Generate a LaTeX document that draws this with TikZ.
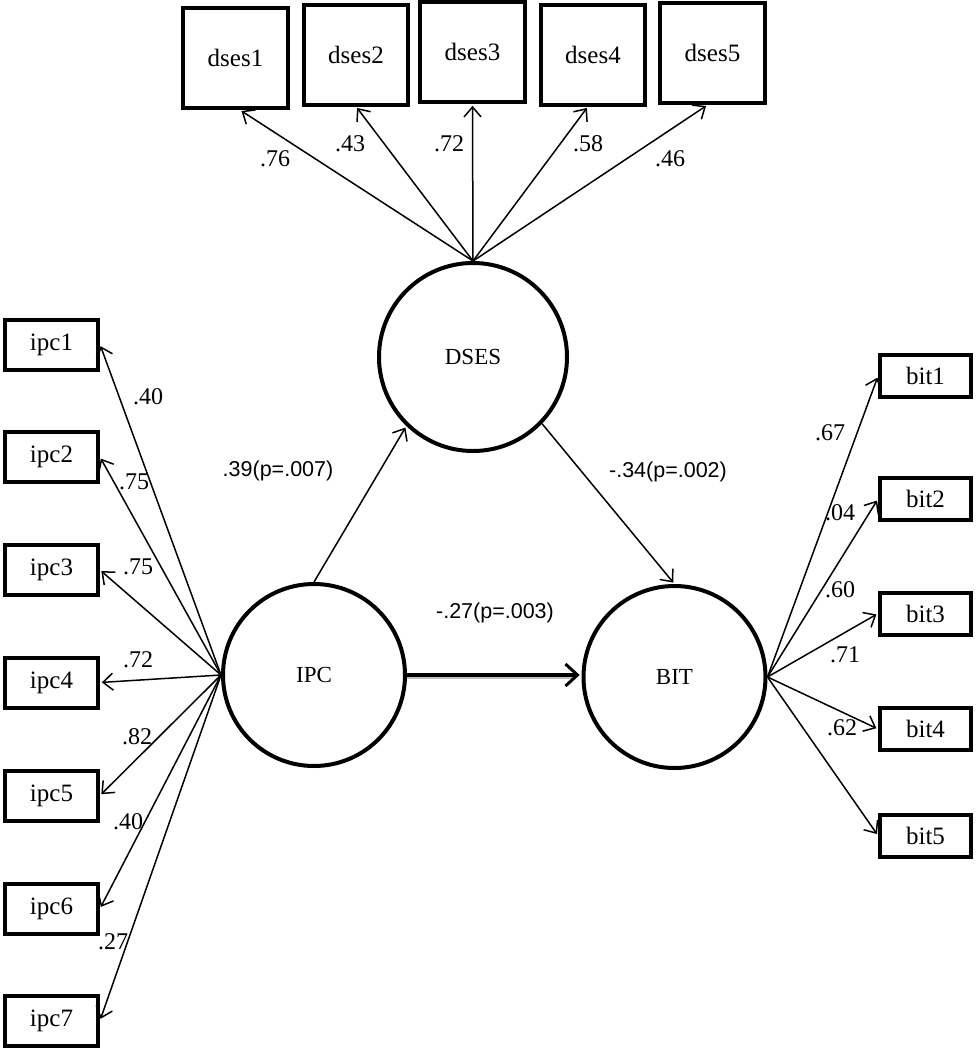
\documentclass[tikz,border=0pt]{standalone}
\usepackage{fontspec}
\setmainfont{Liberation Serif}
\newfontfamily\lsans{Liberation Sans}
\usetikzlibrary{arrows.meta,calc}
\begin{document}
\begin{tikzpicture}[x=1pt,y=-1pt,
  obs/.style={draw, line width=4pt, inner sep=0pt, font=\fontsize{25}{28}\selectfont},
  topbox/.style={obs, minimum width=104.5pt, minimum height=100pt},
  lbox/.style={obs, minimum width=93pt, minimum height=50pt},
  rbox/.style={obs, minimum width=91pt, minimum height=42pt},
  lat/.style={draw, circle, line width=4pt, inner sep=0pt, font=\fontsize{23}{26}\selectfont},
  load/.style={font=\fontsize{24}{26}\selectfont, inner sep=0pt},
  coef/.style={font=\lsans\fontsize{21.5}{24}\selectfont, inner sep=0pt},
  arr/.style={line width=1.5pt, shorten >=1.8pt, -{Straight Barb[length=10pt,width=17pt,line width=1.5pt]}},
]
\useasboundingbox (0,0) rectangle (976,1050);

% latent variables
\node[lat, minimum size=188pt] (DSES) at (473,357) {DSES};
\node[lat, minimum size=182pt] (IPC) at (314,675) {IPC};
\node[lat, minimum size=182pt] (BIT) at (674.5,677) {BIT};

% dses indicators
\node[topbox] (d1) at (235.5,58) {dses1};
\node[topbox] (d2) at (356,54.5) {dses2};
\node[topbox] (d3) at (472.5,52) {dses3};
\node[topbox] (d4) at (593,54.5) {dses4};
\node[topbox] (d5) at (712.5,53) {dses5};

% ipc indicators
\node[lbox] (i1) at (51.5,344.5) {ipc1};
\node[lbox] (i2) at (51.5,457) {ipc2};
\node[lbox] (i3) at (51.5,570) {ipc3};
\node[lbox] (i4) at (51.5,682.5) {ipc4};
\node[lbox] (i5) at (51.5,795.5) {ipc5};
\node[lbox] (i6) at (51.5,908.5) {ipc6};
\node[lbox] (i7) at (51.5,1020.5) {ipc7};

% bit indicators
\node[rbox] (b1) at (925.5,376) {bit1};
\node[rbox] (b2) at (925.5,499) {bit2};
\node[rbox] (b3) at (925.5,613.5) {bit3};
\node[rbox] (b4) at (925.5,729) {bit4};
\node[rbox] (b5) at (925.5,835.5) {bit5};

% DSES loadings
\draw[arr] (DSES.north) -- ($(d1.south)+(4.5,0)$);
\draw[arr] (DSES.north) -- (d2.south);
\draw[arr] (DSES.north) -- (d3.south);
\draw[arr] (DSES.north) -- ($(d4.south)+(-5,0)$);
\draw[arr] (DSES.north) -- ($(d5.south)+(-5,0)$);

% IPC loadings
\foreach \k in {1,...,7} {\draw[arr] (IPC.west) -- (i\k.east);}

% BIT loadings
\foreach \k in {1,...,5} {\draw[arr] (BIT.east) -- (b\k.west);}

% structural paths
\draw[arr] (IPC.north) -- (DSES.-134);
\draw[arr] (DSES.-44) -- (BIT.north);
\draw[black!25, line width=3pt] ([yshift=-2.5pt]IPC.east) -- ([yshift=-2.5pt,xshift=-6pt]IPC.east -| BIT.west);
\draw[line width=3.4pt, shorten >=1.8pt, -{Straight Barb[length=12pt,width=22pt,line width=3pt]}] (IPC.east) -- (IPC.east -| BIT.west);

% loading labels
\node[load] (l76) at (275,159) {.76};
\node[load] (l43) at (350,144) {.43};
\node[load] (l72) at (449,144) {.72};
\node[load] (l58) at (588,144) {.58};
\node[load] (l46) at (670,159) {.46};

\node[load] (li1) at (148,397) {.40};
\node[load] (li2) at (134,482) {.75};
\node[load] (li3) at (138,567) {.75};
\node[load] (li4) at (138,660) {.72};
\node[load] (li5) at (137,737) {.82};
\node[load] (li6) at (128,822) {.40};
\node[load] (li7) at (113,942) {.27};

\node[load] (lb1) at (830,433) {.67};
\node[load] (lb2) at (840,513) {.04};
\node[load] (lb3) at (840,590) {.60};
\node[load] (lb4) at (845,655) {.71};
\node[load] (lb5) at (842,728) {.62};

% path coefficients
\node[coef] (c1) at (278,471) {.39(p=.007)};
\node[coef] (c2) at (668,472) {-.34(p=.002)};
\node[coef] (c3) at (495,613) {-.27(p=.003)};
\end{tikzpicture}
\end{document}
